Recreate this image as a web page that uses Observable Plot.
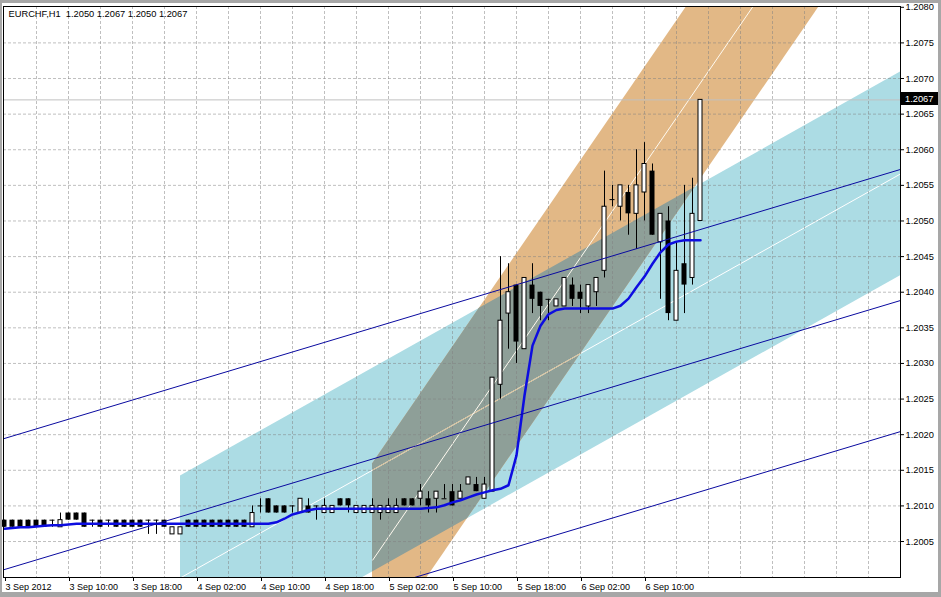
<!DOCTYPE html>
<html><head><meta charset="utf-8">
<script src="https://cdn.jsdelivr.net/npm/d3@7"></script>
<script src="https://cdn.jsdelivr.net/npm/@observablehq/plot@0.6"></script>
<style>
html,body{margin:0;padding:0;background:#fff;}
#wrap{position:relative;width:941px;height:597px;overflow:hidden;background:#fff;}
.chrome{position:absolute;background:#a7a7a7;}
</style></head><body>
<div id="wrap"></div>
<script>
// ---------- data ----------
const symbol = "EURCHF";
const timeframe = "H1";
const opens = [1.2008,1.2008,1.2008,1.2008,1.2008,1.2008,1.2008,1.2007,1.2009,1.2009,
1.2009,1.2008,1.2008,1.2008,1.2008,1.2008,1.2008,1.2008,1.2008,1.2008,
1.2008,1.2006,1.2006,1.2008,1.2008,1.2008,1.2008,1.2008,1.2008,1.2008,
1.2008,1.2007,1.2010,1.2011,1.2010,1.2010,1.2010,1.2009,1.2010,1.2010,
1.2009,1.2009,1.2011,1.2011,1.2009,1.2009,1.2009,1.2009,1.2009,1.2009,
1.2011,1.2011,1.2011,1.2011,1.2011,1.2011,1.2012,1.2011,1.2013,1.2013,
1.2011,1.2012,1.2027,1.2037,1.2041,1.2032,1.2041,1.2040,1.2039,1.2038,
1.2038,1.2041,1.2040,1.2038,1.2040,1.2043,1.2053,1.2052,1.2054,1.2051,
1.2054,1.2057,1.2047,1.2050,1.2036,1.2044,1.2042,1.2050];
const highs = [1.2008,1.2008,1.2008,1.2008,1.2008,1.2008,1.2008,1.2009,1.2009,1.2009,
1.2009,1.2008,1.2008,1.2008,1.2008,1.2008,1.2008,1.2008,1.2008,1.2008,
1.2008,1.2007,1.2007,1.2008,1.2008,1.2008,1.2008,1.2008,1.2008,1.2008,
1.2008,1.2010,1.2011,1.2011,1.2010,1.2010,1.2010,1.2011,1.2011,1.2010,
1.2011,1.2010,1.2011,1.2011,1.2010,1.2010,1.2011,1.2010,1.2011,1.2011,
1.2011,1.2011,1.2013,1.2012,1.2012,1.2013,1.2013,1.2013,1.2014,1.2014,
1.2014,1.2028,1.2045,1.2044,1.2041,1.2042,1.2044,1.2040,1.2039,1.2039,
1.2042,1.2042,1.2041,1.2041,1.2042,1.2057,1.2055,1.2055,1.2055,1.2060,
1.2061,1.2058,1.2051,1.2052,1.2047,1.2055,1.2056,1.2067];
const lows = [1.2007,1.2007,1.2007,1.2007,1.2007,1.2007,1.2007,1.2007,1.2008,1.2008,
1.2007,1.2007,1.2007,1.2007,1.2007,1.2007,1.2007,1.2007,1.2006,1.2006,
1.2007,1.2006,1.2006,1.2007,1.2007,1.2007,1.2007,1.2007,1.2007,1.2007,
1.2007,1.2007,1.2009,1.2009,1.2009,1.2009,1.2009,1.2009,1.2009,1.2008,
1.2009,1.2009,1.2010,1.2009,1.2009,1.2009,1.2009,1.2008,1.2009,1.2009,
1.2010,1.2010,1.2010,1.2009,1.2009,1.2011,1.2010,1.2011,1.2013,1.2012,
1.2011,1.2012,1.2025,1.2032,1.2030,1.2032,1.2037,1.2036,1.2036,1.2038,
1.2038,1.2038,1.2037,1.2037,1.2038,1.2042,1.2052,1.2050,1.2048,1.2046,
1.2050,1.2048,1.2039,1.2036,1.2036,1.2037,1.2041,1.2050];
const closes = [1.2007,1.2007,1.2007,1.2007,1.2007,1.2007,1.2008,1.2008,1.2008,1.2008,
1.2007,1.2008,1.2007,1.2008,1.2007,1.2007,1.2007,1.2007,1.2008,1.2008,
1.2007,1.2007,1.2007,1.2007,1.2007,1.2007,1.2007,1.2007,1.2007,1.2007,
1.2007,1.2009,1.2010,1.2009,1.2009,1.2009,1.2010,1.2011,1.2009,1.2010,
1.2010,1.2010,1.2010,1.2010,1.2010,1.2010,1.2010,1.2010,1.2010,1.2010,
1.2010,1.2010,1.2012,1.2010,1.2012,1.2011,1.2010,1.2012,1.2014,1.2012,
1.2013,1.2028,1.2036,1.2040,1.2033,1.2042,1.2039,1.2038,1.2039,1.2039,
1.2042,1.2039,1.2039,1.2041,1.2042,1.2052,1.2053,1.2055,1.2051,1.2055,
1.2058,1.2048,1.2051,1.2037,1.2043,1.2041,1.2051,1.2067];
const maValues = [1.20068,1.20069,1.20070,1.20070,1.20071,1.20072,1.20073,1.20073,1.20074,1.20075,
1.20075,1.20075,1.20075,1.20075,1.20075,1.20075,1.20075,1.20075,1.20075,1.20075,
1.20075,1.20075,1.20075,1.20075,1.20075,1.20075,1.20075,1.20075,1.20075,1.20075,
1.20075,1.20075,1.20075,1.20075,1.20077,1.20082,1.20088,1.20091,1.20094,1.20096,
1.20096,1.20096,1.20096,1.20096,1.20096,1.20096,1.20096,1.20096,1.20096,1.20096,
1.20096,1.20096,1.20096,1.20097,1.20098,1.20101,1.20105,1.20108,1.20112,1.20116,
1.20119,1.20122,1.20124,1.20129,1.20171,1.20255,1.20325,1.20353,1.20369,1.20375,
1.20377,1.20377,1.20377,1.20377,1.20377,1.20377,1.20377,1.20381,1.20391,1.20407,
1.20422,1.20440,1.20456,1.20467,1.20471,1.20473,1.20473,1.20473];
const timeLabels = ["3 Sep 2012","3 Sep 10:00","3 Sep 18:00","4 Sep 02:00","4 Sep 10:00","4 Sep 18:00","5 Sep 02:00","5 Sep 10:00","5 Sep 18:00","6 Sep 02:00","6 Sep 10:00"];
const labelBars = [0,8,16,24,32,40,48,56,64,72,80];
const gridBars = [4,8,12,16,20,24,28,32,36,40,44,48,52,56,60,64,68,72,76,80,84,88,92,96,100,104,108];
const priceTicks = [1.2005,1.2010,1.2015,1.2020,1.2025,1.2030,1.2035,1.2040,1.2045,1.2050,1.2055,1.2060,1.2065,1.2070,1.2075,1.2080];
const bidPrice = 1.2067;
// channels: [start bar, top price at start bar, slope per bar, width]
const blueChannel = [22, 1.20142, 0.0000630, 0.00286];
const orangeChannel = [46, 1.20159, 0.0001635, 0.00271];
// navy equidistant lines: [middle price at bar 0, slope per bar]
const navyBase = [1.200107, 0.00003372];
const navyOffsets = [0.00184, 0, -0.00184];

// ---------- layout ----------
const xDomain = [-0.125, 112];
const yDomain = [1.199995, 1.208011];
const font = "'Liberation Sans',Arial,sans-serif";
const fs = 9.3;

const bars = opens.map((o, i) => ({i, o, h: highs[i], l: lows[i], c: closes[i]}));
const bull = bars.filter(d => d.c > d.o);
const bear = bars.filter(d => d.c < d.o);
const doji = bars.filter(d => d.c === d.o);

const edge = (ch, k) => ch[1] + ch[2] * (k - ch[0]);
const bTop = k => edge(blueChannel, k), bBot = k => bTop(k) - blueChannel[3], bMid = k => bTop(k) - blueChannel[3] / 2;
const oUp = k => edge(orangeChannel, k), oLo = k => oUp(k) - orangeChannel[3], oMid = k => oUp(k) - orangeChannel[3] / 2;
const cross = (f, g) => { const a0 = f(0) - g(0), a1 = f(1) - g(1); return -a0 / (a1 - a0); };

const blueArea = [blueChannel[0], xDomain[1]].map(k => ({k, lo: bBot(k), hi: bTop(k)}));
const orangeArea = [orangeChannel[0], xDomain[1]].map(k => ({k, lo: oLo(k), hi: oUp(k)}));
const grayKs = [orangeChannel[0], cross(oUp, bTop), cross(oLo, bBot), cross(oLo, bTop), xDomain[1]]
  .filter(k => k >= orangeChannel[0] && k <= xDomain[1]).sort((a, b) => a - b);
const grayArea = grayKs.map(k => { const lo = Math.max(oLo(k), bBot(k)), hi = Math.min(oUp(k), bTop(k)); return {k, lo, hi: Math.max(hi, lo)}; });
const tanEnd = cross(bMid, oLo);

const navyLine = k => navyBase[0] + navyBase[1] * k;
const fmt = d3.format(".4f");
const title = `${symbol},${timeframe}  ${fmt(opens[87])} ${fmt(highs[87])} ${fmt(lows[87])} ${fmt(closes[87])}`;

const bidMark = (index, scales, values, dims) => {
  const y = scales.y(bidPrice);
  const x0 = dims.width - dims.marginRight;
  const g = d3.create("svg:g");
  g.append("rect").attr("x", x0 + 1).attr("y", Math.round(y) - 7).attr("width", 37).attr("height", 13).attr("fill", "black");
  g.append("text").attr("x", x0 + 5).attr("y", y).attr("dy", "0.32em").attr("fill", "white")
    .attr("text-anchor", "start").attr("font-size", fs).attr("font-family", font).text(fmt(bidPrice));
  return g.node();
};

const chart = Plot.plot({
  width: 941, height: 597,
  marginLeft: 3, marginRight: 41, marginTop: 6, marginBottom: 20,
  style: {background: "white", fontFamily: font, fontSize: fs + "px", color: "black"},
  x: {type: "linear", domain: xDomain},
  y: {type: "linear", domain: yDomain},
  marks: [
    Plot.areaY(blueArea, {x: "k", y1: "lo", y2: "hi", fill: "#acdce4", clip: true}),
    Plot.areaY(orangeArea, {x: "k", y1: "lo", y2: "hi", fill: "#e2b886", clip: true}),
    Plot.areaY(grayArea, {x: "k", y1: "lo", y2: "hi", fill: "#8e9f98", clip: true}),
    Plot.link([0], {x1: () => blueChannel[0], y1: () => bMid(blueChannel[0]), x2: () => xDomain[1], y2: () => bMid(xDomain[1]), stroke: "white", strokeWidth: 1, clip: true}),
    Plot.link([0], {x1: () => orangeChannel[0], y1: () => bMid(orangeChannel[0]), x2: () => tanEnd, y2: () => bMid(tanEnd), stroke: "#d9bf93", strokeWidth: 1, clip: true}),
    Plot.link([0], {x1: () => orangeChannel[0], y1: () => oMid(orangeChannel[0]), x2: () => xDomain[1], y2: () => oMid(xDomain[1]), stroke: "#fffaf0", strokeWidth: 1, clip: true}),
    Plot.ruleY(priceTicks.filter(p => p < 1.208), {stroke: "#808080", strokeOpacity: 0.5, strokeDasharray: "3,2"}),
    Plot.ruleX(gridBars, {stroke: "#808080", strokeOpacity: 0.5, strokeDasharray: "3,2"}),
    Plot.ruleY([bidPrice], {stroke: "#c0c0c0"}),
    Plot.ruleX(bars, {x: "i", y1: "l", y2: "h", stroke: "black", strokeWidth: 1}),
    Plot.rectY(bear, {x1: d => d.i - 2.5 / 8, x2: d => d.i + 2.5 / 8, y1: "o", y2: "c", fill: "black", inset: 0}),
    Plot.rectY(bull, {x1: d => d.i - 2 / 8, x2: d => d.i + 2 / 8, y1: "o", y2: "c", fill: "white", stroke: "black", strokeWidth: 1, inset: 0}),
    Plot.ruleY(doji, {y: "o", x1: d => d.i - 2.5 / 8, x2: d => d.i + 2.5 / 8, stroke: "black"}),
    Plot.line(maValues, {x: (d, i) => i, y: d => d, stroke: "#0d0de0", strokeWidth: 2.5}),
    Plot.link(navyOffsets, {x1: () => xDomain[0], y1: o => navyLine(xDomain[0]) + o, x2: () => xDomain[1], y2: o => navyLine(xDomain[1]) + o, stroke: "#0a0aa0", strokeWidth: 1, clip: true}),
    Plot.frame({stroke: "black"}),
    Plot.axisY({anchor: "right", ticks: priceTicks, tickFormat: fmt, tickSize: 3, tickPadding: 2, label: null, fontSize: fs}),
    Plot.axisX({ticks: labelBars, tickFormat: b => timeLabels[labelBars.indexOf(b)], tickSize: 4, tickPadding: 2, textAnchor: "start", dx: 1, label: null, fontSize: 9}),
    Plot.text([title], {frameAnchor: "top-left", dx: 5, dy: 4, lineAnchor: "top", textAnchor: "start", fill: "black", fontSize: fs}),
    bidMark
  ]
});
const wrap = document.getElementById("wrap");
wrap.appendChild(chart);
chart.style.position = "absolute"; chart.style.left = "0"; chart.style.top = "0";
[["0px","0px","941px","3px"],["0px","0px","2px","597px"],["0px","592px","941px","5px"],["938px","0px","3px","597px"]].forEach(([l,t,w,h]) => {
  const d = document.createElement("div"); d.className = "chrome";
  d.style.left = l; d.style.top = t; d.style.width = w; d.style.height = h; wrap.appendChild(d);
});
</script>
</body></html>
